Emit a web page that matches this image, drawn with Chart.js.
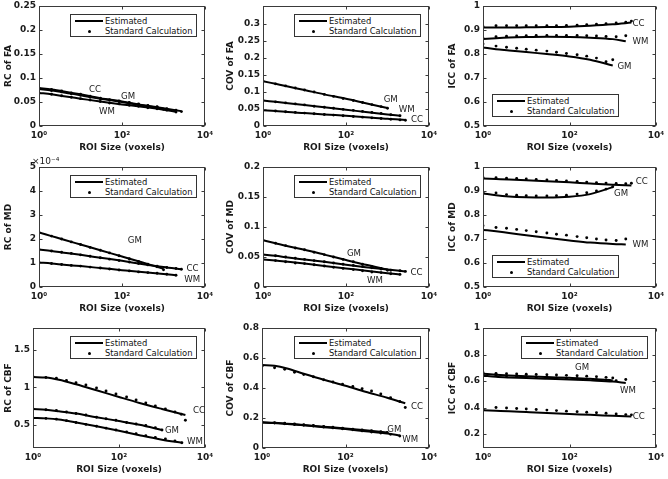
<!DOCTYPE html>
<html>
<head>
<meta charset="utf-8">
<script src="https://cdn.jsdelivr.net/npm/chart.js@4.4.1/dist/chart.umd.min.js"></script>
<style>
  html, body { margin:0; padding:0; background:#fff; }
  #page { position:relative; width:668px; height:479px; overflow:hidden; background:#fff; }
  canvas { position:absolute; }
  .legend { position:absolute; width:127px; height:23px; box-sizing:border-box; border:1px solid #333; background:#fff;
            font-family:'DejaVu Sans'; font-size:8.4px; color:#111; }
  .legend .t { position:absolute; left:34px; line-height:10px; white-space:nowrap; }
  .legend .ln { position:absolute; left:4px; width:28px; height:2px; top:5px; background:#000; }
  .legend .dt { position:absolute; left:17px; top:15px; width:3px; height:3px; border-radius:50%; background:#000; }
</style>
</head>
<body>
<div id="page"></div>
<script>
// ---------------- DATA ----------------
const SERIES_NAMES = ['Estimated', 'Standard Calculation'];
const X_TITLE = 'ROI Size (voxels)';
const X_TICKS = [1, 100, 10000];
const X_TICK_LABELS = ['10⁰', '10²', '10⁴'];
const MD_RC_EXPONENT = '×10⁻⁴';

// ROI sizes (voxels) of the estimated curves
const LX_GM = [1, 2, 4, 10, 30, 100, 300, 1000];
const LX_WM = [1, 2, 4, 10, 30, 100, 300, 1000, 2000];
const LX_CC = [1, 2, 4, 10, 30, 100, 300, 1000, 2700];
const LX_WM_CBF_RC = [1, 2, 4, 10, 30, 100, 300, 1000, 2900];
const LX_CC_CBF_RC = [1, 2, 4, 10, 30, 100, 300, 1000, 3500];
// ROI sizes (voxels) of the standard-calculation points
const DX_GM = [1, 2, 3.5, 6, 10, 17, 30, 50, 85, 150, 250, 420, 700, 1000];
const DX_WM = [1, 2, 3.5, 6, 10, 17, 30, 50, 85, 150, 250, 420, 700, 1200, 2000];
const DX_CC = [1, 2, 3.5, 6, 10, 17, 30, 50, 85, 150, 250, 420, 700, 1200, 2000, 2700];
const DX_WM_CBF_RC = [1, 2, 3.5, 6, 10, 17, 30, 50, 85, 150, 250, 420, 700, 1200, 2000, 2900];
const DX_CC_CBF_RC = [1, 2, 3.5, 6, 10, 17, 30, 50, 85, 150, 250, 420, 700, 1200, 2000, 2800, 3500];

// y tick values
const YT_FA_RC  = [0, 0.05, 0.1, 0.15, 0.2, 0.25];
const YT_FA_COV = [0, 0.05, 0.1, 0.15, 0.2, 0.25, 0.3];
const YT_ICC    = [0.5, 0.6, 0.7, 0.8, 0.9, 1];
const YT_MD_RC  = [0, 1, 2, 3, 4, 5];
const YT_MD_COV = [0, 0.05, 0.1, 0.15, 0.2];
const YT_CBF_RC = [0.5, 1, 1.5];
const YT_CBF_COV = [0, 0.2, 0.4, 0.6, 0.8];
const YT_CBF_ICC = [0.2, 0.4, 0.6, 0.8, 1];

// RC of FA
const FA_RC_EST_CC = [0.079, 0.076, 0.072, 0.066, 0.058, 0.051, 0.044, 0.037, 0.031];
const FA_RC_EST_GM = [0.077, 0.074, 0.070, 0.064, 0.057, 0.050, 0.043, 0.036];
const FA_RC_EST_WM = [0.069, 0.066, 0.062, 0.057, 0.051, 0.045, 0.040, 0.034, 0.030];
const FA_RC_STD_CC = [0.079, 0.076, 0.073, 0.069, 0.066, 0.062, 0.058, 0.055, 0.052, 0.049, 0.046, 0.043, 0.040, 0.036, 0.033, 0.030];
const FA_RC_STD_GM = [0.077, 0.074, 0.071, 0.067, 0.064, 0.060, 0.057, 0.054, 0.051, 0.048, 0.045, 0.042, 0.039, 0.035];
const FA_RC_STD_WM = [0.069, 0.066, 0.063, 0.060, 0.057, 0.054, 0.051, 0.048, 0.046, 0.043, 0.041, 0.038, 0.036, 0.033, 0.029];
// COV of FA
const FA_COV_EST_CC = [0.046, 0.044, 0.041, 0.038, 0.034, 0.030, 0.026, 0.021, 0.018];
const FA_COV_EST_GM = [0.132, 0.124, 0.116, 0.106, 0.093, 0.080, 0.067, 0.053];
const FA_COV_EST_WM = [0.075, 0.071, 0.067, 0.062, 0.055, 0.048, 0.041, 0.034, 0.030];
const FA_COV_STD_CC = [0.046, 0.044, 0.042, 0.040, 0.038, 0.036, 0.034, 0.032, 0.030, 0.028, 0.026, 0.024, 0.022, 0.020, 0.018, 0.017];
const FA_COV_STD_GM = [0.132, 0.124, 0.118, 0.112, 0.106, 0.100, 0.093, 0.087, 0.081, 0.075, 0.069, 0.063, 0.057, 0.052];
const FA_COV_STD_WM = [0.075, 0.071, 0.068, 0.065, 0.062, 0.058, 0.055, 0.052, 0.049, 0.046, 0.043, 0.040, 0.037, 0.033, 0.030];
// ICC of FA
const FA_ICC_EST_CC = [0.910, 0.910, 0.910, 0.911, 0.912, 0.914, 0.918, 0.924, 0.931];
const FA_ICC_EST_GM = [0.827, 0.820, 0.815, 0.808, 0.800, 0.790, 0.776, 0.752];
const FA_ICC_EST_WM = [0.862, 0.866, 0.869, 0.871, 0.872, 0.871, 0.868, 0.862, 0.853];
const FA_ICC_STD_CC = [0.915, 0.918, 0.918, 0.918, 0.918, 0.918, 0.918, 0.918, 0.919, 0.920, 0.922, 0.924, 0.926, 0.929, 0.932, 0.937];
const FA_ICC_STD_GM = [0.842, 0.833, 0.828, 0.824, 0.820, 0.816, 0.812, 0.807, 0.802, 0.797, 0.791, 0.783, 0.768, 0.776];
const FA_ICC_STD_WM = [0.866, 0.872, 0.874, 0.875, 0.876, 0.877, 0.877, 0.877, 0.877, 0.877, 0.876, 0.875, 0.873, 0.872, 0.876];
// RC of MD (x 10^-4)
const MD_RC_EST_CC = [1.56, 1.50, 1.43, 1.34, 1.22, 1.09, 0.96, 0.83, 0.74];
const MD_RC_EST_GM = [2.27, 2.12, 1.97, 1.77, 1.53, 1.27, 1.03, 0.76];
const MD_RC_EST_WM = [1.02, 0.98, 0.93, 0.87, 0.79, 0.70, 0.62, 0.54, 0.49];
const MD_RC_STD_CC = [1.56, 1.50, 1.45, 1.40, 1.34, 1.28, 1.22, 1.16, 1.10, 1.04, 0.98, 0.92, 0.87, 0.81, 0.77, 0.74];
const MD_RC_STD_GM = [2.27, 2.12, 2.00, 1.88, 1.77, 1.65, 1.53, 1.42, 1.30, 1.18, 1.06, 0.95, 0.84, 0.72];
const MD_RC_STD_WM = [1.02, 0.98, 0.94, 0.90, 0.87, 0.83, 0.79, 0.75, 0.71, 0.67, 0.63, 0.60, 0.57, 0.53, 0.49];
// COV of MD
const MD_COV_EST_CC = [0.054, 0.052, 0.049, 0.046, 0.042, 0.037, 0.033, 0.029, 0.026];
const MD_COV_EST_GM = [0.078, 0.073, 0.068, 0.062, 0.054, 0.045, 0.037, 0.029];
const MD_COV_EST_WM = [0.046, 0.044, 0.042, 0.039, 0.035, 0.031, 0.027, 0.023, 0.021];
const MD_COV_STD_CC = [0.054, 0.052, 0.050, 0.048, 0.046, 0.044, 0.042, 0.040, 0.038, 0.036, 0.034, 0.032, 0.030, 0.028, 0.027, 0.026];
const MD_COV_STD_GM = [0.078, 0.073, 0.069, 0.065, 0.062, 0.058, 0.054, 0.050, 0.046, 0.042, 0.038, 0.034, 0.031, 0.028];
const MD_COV_STD_WM = [0.046, 0.044, 0.042, 0.040, 0.039, 0.037, 0.035, 0.033, 0.031, 0.029, 0.027, 0.025, 0.024, 0.022, 0.021];
// ICC of MD
const MD_ICC_EST_CC = [0.952, 0.950, 0.948, 0.945, 0.941, 0.936, 0.931, 0.926, 0.923];
const MD_ICC_EST_GM = [0.890, 0.882, 0.877, 0.874, 0.873, 0.876, 0.887, 0.916];
const MD_ICC_EST_WM = [0.738, 0.732, 0.725, 0.716, 0.705, 0.694, 0.685, 0.679, 0.677];
const MD_ICC_STD_CC = [0.956, 0.955, 0.953, 0.952, 0.950, 0.948, 0.946, 0.944, 0.942, 0.940, 0.937, 0.935, 0.933, 0.931, 0.930, 0.932];
const MD_ICC_STD_GM = [0.895, 0.892, 0.885, 0.882, 0.880, 0.879, 0.879, 0.880, 0.882, 0.887, 0.893, 0.900, 0.908, 0.918];
const MD_ICC_STD_WM = [0.755, 0.748, 0.745, 0.740, 0.735, 0.730, 0.725, 0.720, 0.716, 0.710, 0.705, 0.700, 0.696, 0.694, 0.700];
// RC of CBF
const CBF_RC_EST_CC = [1.136, 1.13, 1.10, 1.04, 0.96, 0.87, 0.79, 0.71, 0.63];
const CBF_RC_EST_GM = [0.71, 0.70, 0.68, 0.65, 0.60, 0.55, 0.50, 0.43];
const CBF_RC_EST_WM = [0.59, 0.585, 0.57, 0.53, 0.48, 0.42, 0.36, 0.30, 0.26];
const CBF_RC_STD_CC = [1.14, 1.13, 1.12, 1.09, 1.06, 1.03, 0.99, 0.95, 0.91, 0.87, 0.83, 0.79, 0.75, 0.71, 0.67, 0.64, 0.56];
const CBF_RC_STD_GM = [0.71, 0.70, 0.69, 0.67, 0.65, 0.63, 0.60, 0.58, 0.56, 0.53, 0.51, 0.49, 0.46, 0.43];
const CBF_RC_STD_WM = [0.59, 0.585, 0.575, 0.555, 0.53, 0.505, 0.48, 0.455, 0.43, 0.405, 0.38, 0.355, 0.33, 0.31, 0.285, 0.26];
// COV of CBF
const CBF_COV_EST_CC = [0.553, 0.548, 0.530, 0.495, 0.455, 0.415, 0.375, 0.335, 0.298];
const CBF_COV_EST_GM = [0.172, 0.168, 0.162, 0.154, 0.142, 0.130, 0.118, 0.103];
const CBF_COV_EST_WM = [0.170, 0.166, 0.160, 0.151, 0.139, 0.126, 0.112, 0.097, 0.083];
const CBF_COV_STD_CC = [0.545, 0.535, 0.525, 0.505, 0.490, 0.475, 0.455, 0.440, 0.425, 0.410, 0.395, 0.380, 0.360, 0.335, 0.310, 0.270];
const CBF_COV_STD_GM = [0.172, 0.168, 0.165, 0.160, 0.155, 0.150, 0.143, 0.138, 0.132, 0.126, 0.120, 0.115, 0.109, 0.104];
const CBF_COV_STD_WM = [0.170, 0.166, 0.162, 0.157, 0.152, 0.147, 0.140, 0.134, 0.128, 0.121, 0.114, 0.107, 0.100, 0.091, 0.080];
// ICC of CBF
const CBF_ICC_EST_CC = [0.380, 0.376, 0.372, 0.366, 0.359, 0.352, 0.345, 0.338, 0.332];
const CBF_ICC_EST_GM = [0.655, 0.648, 0.642, 0.636, 0.630, 0.624, 0.617, 0.605];
const CBF_ICC_EST_WM = [0.640, 0.632, 0.627, 0.622, 0.617, 0.612, 0.605, 0.596, 0.585];
const CBF_ICC_STD_CC = [0.385, 0.400, 0.397, 0.393, 0.389, 0.385, 0.381, 0.377, 0.373, 0.369, 0.365, 0.361, 0.357, 0.352, 0.347, 0.345];
const CBF_ICC_STD_GM = [0.665, 0.658, 0.655, 0.653, 0.651, 0.649, 0.647, 0.645, 0.643, 0.640, 0.637, 0.633, 0.628, 0.623];
const CBF_ICC_STD_WM = [0.650, 0.642, 0.638, 0.635, 0.632, 0.629, 0.626, 0.623, 0.620, 0.617, 0.614, 0.611, 0.607, 0.602, 0.612];

// ---------------- LAYOUT / STYLE ----------------
const FONT = "'DejaVu Sans'";
const TXT = '#1a1a1a';
const COL_L = [0, 222, 444];           // canvas left per column
const BOX_R = [205, 429, 656];         // plot-box right per column
const ROW_T = [6, 167, 328];           // plot-box top per row
const ROW_B = [126, 287, 448];         // plot-box bottom per row
const PAD_T = 14, PAD_R = 14, XAX_H = 32;

const panels = [
  { r:0, c:0, boxL:39, title:'RC of FA', yMin:0, yMax:0.25, yTicks:YT_FA_RC, leg:'tr',
    est:[[LX_CC,FA_RC_EST_CC],[LX_GM,FA_RC_EST_GM],[LX_WM,FA_RC_EST_WM]],
    std:[[DX_CC,FA_RC_STD_CC],[DX_GM,FA_RC_STD_GM],[DX_WM,FA_RC_STD_WM]],
    labels:[['CC',16,0.075],['GM',95,0.061],['WM',28,0.029]] },
  { r:0, c:1, boxL:263, title:'COV of FA', yMin:0, yMax:0.353, yTicks:YT_FA_COV, leg:'tr',
    est:[[LX_CC,FA_COV_EST_CC],[LX_GM,FA_COV_EST_GM],[LX_WM,FA_COV_EST_WM]],
    std:[[DX_CC,FA_COV_STD_CC],[DX_GM,FA_COV_STD_GM],[DX_WM,FA_COV_STD_WM]],
    labels:[['GM',810,0.077],['WM',1870,0.048],['CC',3700,0.017]] },
  { r:0, c:2, boxL:483, title:'ICC of FA', yMin:0.5, yMax:1, yTicks:YT_ICC, leg:'bl',
    est:[[LX_CC,FA_ICC_EST_CC],[LX_GM,FA_ICC_EST_GM],[LX_WM,FA_ICC_EST_WM]],
    std:[[DX_CC,FA_ICC_STD_CC],[DX_GM,FA_ICC_STD_GM],[DX_WM,FA_ICC_STD_WM]],
    labels:[['CC',2880,0.925],['WM',2880,0.849],['GM',1280,0.747]] },
  { r:1, c:0, boxL:39, title:'RC of MD', yMin:0, yMax:5, yTicks:YT_MD_RC, leg:'tr', exponent:MD_RC_EXPONENT,
    est:[[LX_CC,MD_RC_EST_CC],[LX_GM,MD_RC_EST_GM],[LX_WM,MD_RC_EST_WM]],
    std:[[DX_CC,MD_RC_STD_CC],[DX_GM,MD_RC_STD_GM],[DX_WM,MD_RC_STD_WM]],
    labels:[['GM',138,1.94],['CC',3600,0.76],['WM',3160,0.32]] },
  { r:1, c:1, boxL:263, title:'COV of MD', yMin:0, yMax:0.2, yTicks:YT_MD_COV, leg:'tr',
    est:[[LX_CC,MD_COV_EST_CC],[LX_GM,MD_COV_EST_GM],[LX_WM,MD_COV_EST_WM]],
    std:[[DX_CC,MD_COV_STD_CC],[DX_GM,MD_COV_STD_GM],[DX_WM,MD_COV_STD_WM]],
    labels:[['GM',105,0.055],['CC',3600,0.0235],['WM',320,0.011]] },
  { r:1, c:2, boxL:483, title:'ICC of MD', yMin:0.5, yMax:1, yTicks:YT_ICC, leg:'bl',
    est:[[LX_CC,MD_ICC_EST_CC],[LX_GM,MD_ICC_EST_GM],[LX_WM,MD_ICC_EST_WM]],
    std:[[DX_CC,MD_ICC_STD_CC],[DX_GM,MD_ICC_STD_GM],[DX_WM,MD_ICC_STD_WM]],
    labels:[['CC',3400,0.938],['GM',1070,0.889],['WM',2870,0.675]] },
  { r:2, c:0, boxL:33, title:'RC of CBF', yMin:0.19, yMax:1.79, yTicks:YT_CBF_RC, leg:'tr',
    est:[[LX_CC_CBF_RC,CBF_RC_EST_CC],[LX_GM,CBF_RC_EST_GM],[LX_WM_CBF_RC,CBF_RC_EST_WM]],
    std:[[DX_CC_CBF_RC,CBF_RC_STD_CC],[DX_GM,CBF_RC_STD_GM],[DX_WM_CBF_RC,CBF_RC_STD_WM]],
    labels:[['CC',5250,0.68],['GM',1170,0.42],['WM',3800,0.278]] },
  { r:2, c:1, boxL:262, title:'COV of CBF', yMin:0, yMax:0.8, yTicks:YT_CBF_COV, leg:'tr',
    est:[[LX_CC,CBF_COV_EST_CC],[LX_GM,CBF_COV_EST_GM],[LX_WM,CBF_COV_EST_WM]],
    std:[[DX_CC,CBF_COV_STD_CC],[DX_GM,CBF_COV_STD_GM],[DX_WM,CBF_COV_STD_WM]],
    labels:[['GM',1000,0.122],['WM',2300,0.054],['CC',3700,0.275]] },
  { r:2, c:2, boxL:483, title:'ICC of CBF', yMin:0.095, yMax:1, yTicks:YT_CBF_ICC, leg:'tr',
    est:[[LX_CC,CBF_ICC_EST_CC],[LX_GM,CBF_ICC_EST_GM],[LX_WM,CBF_ICC_EST_WM]],
    std:[[DX_CC,CBF_ICC_STD_CC],[DX_GM,CBF_ICC_STD_GM],[DX_WM,CBF_ICC_STD_WM]],
    labels:[['GM',134,0.698],['WM',1480,0.527],['CC',2900,0.333]] },
];

const fmt = v => String(Math.round(v * 1e6) / 1e6);

const framePlugin = {
  id: 'frame',
  afterDraw(chart, args, o) {
    const { ctx, chartArea: { left, top, right, bottom }, scales: { x, y } } = chart;
    ctx.save();
    ctx.strokeStyle = '#3a3a3a';
    ctx.lineWidth = 1;
    const L = Math.round(left) + 0.5, R = Math.round(right) - 0.5, T = Math.round(top) + 0.5, B = Math.round(bottom) - 0.5;
    ctx.strokeRect(L, T, R - L, B - T);
    ctx.beginPath();
    for (const v of o.yTicks) {
      const py = Math.round(y.getPixelForValue(v)) + 0.5;
      ctx.moveTo(L, py); ctx.lineTo(L + 3, py);
      ctx.moveTo(R, py); ctx.lineTo(R - 3, py);
    }
    for (const v of X_TICKS) {
      const px = Math.round(x.getPixelForValue(v)) + 0.5;
      ctx.moveTo(px, B); ctx.lineTo(px, B - 3);
      ctx.moveTo(px, T); ctx.lineTo(px, T + 3);
    }
    ctx.stroke();
    ctx.fillStyle = TXT;
    ctx.font = '8.6px ' + FONT;
    ctx.textAlign = 'left';
    ctx.textBaseline = 'middle';
    for (const [t, xv, yv] of o.labels) {
      ctx.fillText(t, x.getPixelForValue(xv), y.getPixelForValue(yv));
    }
    if (o.exponent) {
      ctx.textBaseline = 'alphabetic';
      ctx.font = '9px ' + FONT;
      ctx.fillText(o.exponent, left - 7, top - 3);
    }
    ctx.restore();
  }
};

const page = document.getElementById('page');

panels.forEach(p => {
  const cl = COL_L[p.c];
  const ct = ROW_T[p.r] - PAD_T;
  const w = BOX_R[p.c] + PAD_R - cl;
  const h = ROW_B[p.r] - ROW_T[p.r] + PAD_T + XAX_H;
  const yAxW = p.boxL - cl;
  const cv = document.createElement('canvas');
  cv.width = w; cv.height = h;
  cv.style.left = cl + 'px'; cv.style.top = ct + 'px';
  cv.style.width = w + 'px'; cv.style.height = h + 'px';
  page.appendChild(cv);

  const datasets = [];
  p.est.forEach(([xs, ys]) => datasets.push({
    label: SERIES_NAMES[0], showLine: true,
    data: xs.map((xv, i) => ({ x: xv, y: ys[i] })),
    borderColor: '#000', borderWidth: 2, pointRadius: 0, cubicInterpolationMode: 'monotone', fill: false
  }));
  p.std.forEach(([xs, ys]) => datasets.push({
    label: SERIES_NAMES[1], showLine: false,
    data: xs.map((xv, i) => ({ x: xv, y: ys[i] })),
    pointRadius: 1.45, pointBackgroundColor: '#000', pointBorderWidth: 0, borderColor: '#000'
  }));

  const chart = new Chart(cv, {
    type: 'scatter',
    data: { datasets },
    options: {
      responsive: false, animation: false, devicePixelRatio: 1,
      layout: { padding: { top: PAD_T, right: PAD_R, left: 0, bottom: 0 } },
      plugins: { legend: { display: false }, tooltip: { enabled: false },
        frame: { yTicks: p.yTicks, labels: p.labels, exponent: p.exponent } },
      scales: {
        x: {
          type: 'logarithmic', min: 1, max: 10000,
          afterBuildTicks: s => { s.ticks = X_TICKS.map(v => ({ value: v, major: true })); },
          afterFit: s => { s.height = XAX_H; },
          grid: { display: false, drawTicks: false }, border: { display: false },
          ticks: { padding: 4, maxRotation: 0, autoSkip: false, color: TXT,
                   font: { family: FONT, size: 9, weight: 'bold' },
                   callback: v => X_TICK_LABELS[X_TICKS.indexOf(v)] },
          title: { display: true, text: X_TITLE, color: TXT, font: { family: FONT, size: 9, weight: 'bold' },
                   padding: { top: 0, bottom: 5 } }
        },
        y: {
          type: 'linear', min: p.yMin, max: p.yMax,
          afterBuildTicks: s => { s.ticks = p.yTicks.map(v => ({ value: v })); },
          afterFit: s => { s.width = yAxW; },
          grid: { display: false, drawTicks: false }, border: { display: false },
          ticks: { padding: 3, color: TXT, font: { family: FONT, size: 9, weight: 'bold' }, callback: v => fmt(v) },
          title: { display: true, text: p.title, color: TXT, font: { family: FONT, size: 9, weight: 'bold' },
                   padding: { top: 3, bottom: 0 } }
        }
      }
    },
    plugins: [framePlugin]
  });

  const ca = chart.chartArea;
  const lg = document.createElement('div');
  lg.className = 'legend';
  let lx, ly;
  if (p.leg === 'tr') { lx = cl + ca.right - 8 - 127; ly = ct + ca.top + 8; }
  else { lx = cl + ca.left + 9; ly = ct + ca.bottom - 9 - 23; }
  lg.style.left = lx + 'px'; lg.style.top = ly + 'px';
  lg.innerHTML = '<div class="ln"></div><div class="t" style="top:1px">' + SERIES_NAMES[0] + '</div>' +
                 '<div class="dt"></div><div class="t" style="top:11px">' + SERIES_NAMES[1] + '</div>';
  page.appendChild(lg);
});
</script>
</body>
</html>
